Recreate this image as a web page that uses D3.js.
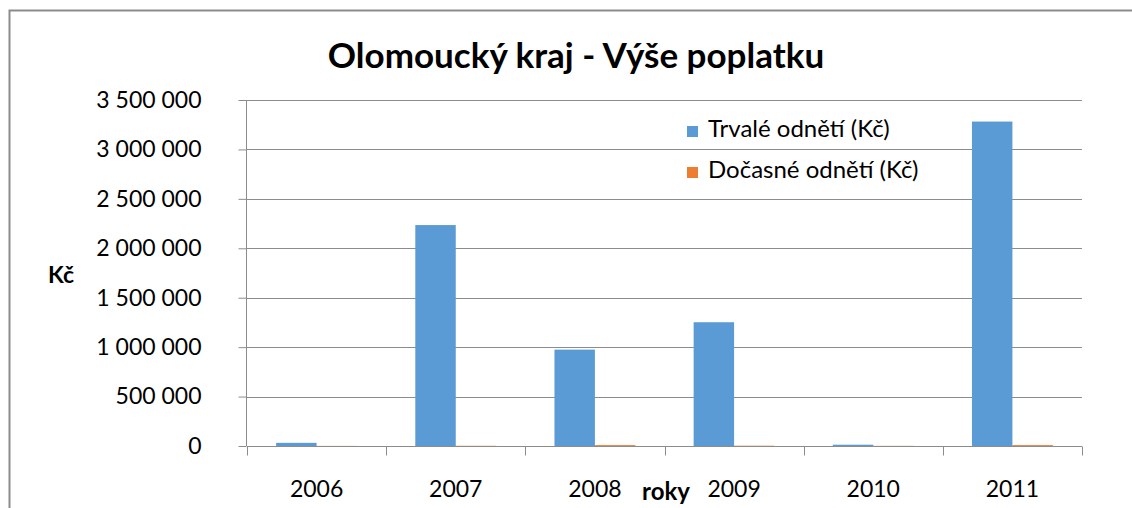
<!DOCTYPE html>
<html lang="cs">
<head>
    <meta charset="UTF-8">
    <title>Olomoucký kraj - Výše poplatku</title>
    <script src="https://cdn.jsdelivr.net/npm/d3@7"></script>
    <style>
        body { margin: 0; background: #fff; }
        svg { font-family: Lato, "Open Sans", sans-serif; }
    </style>
</head>
<body>
<div id="chart"></div>
<script>
    // data
    const years = ["2006", "2007", "2008", "2009", "2010", "2011"];
    const trvale = [32000, 2235000, 975000, 1252000, 13000, 3282000];
    const docasne = [1000, 2000, 9000, 3000, 1500, 9000];
    const seriesNames = ["Trvalé odnětí (Kč)", "Dočasné odnětí (Kč)"];
    const yTicks = [0, 500000, 1000000, 1500000, 2000000, 2500000, 3000000, 3500000];

    const width = 1132, height = 508;
    const colors = ["#5b9bd5", "#ed7d31"];
    const margin = {left: 247, right: 50, top: 100, bottom: 62};

    const svg = d3.select("#chart").append("svg")
        .attr("width", width)
        .attr("height", height);

    // chart frame
    svg.append("rect")
        .attr("x", 9.5).attr("y", 10.5)
        .attr("width", 1140).attr("height", 520)
        .attr("fill", "none")
        .attr("stroke", "#8c8c8c")
        .attr("stroke-width", 2);

    const x = d3.scaleBand()
        .domain(years)
        .range([margin.left, width - margin.right]);

    const xInner = d3.scaleBand()
        .domain([0, 1])
        .range([0, x.bandwidth()])
        .paddingOuter(0.72);

    const y = d3.scaleLinear()
        .domain([0, 3500000])
        .range([height - margin.bottom, margin.top]);

    const fmt = v => d3.format(",")(v).replace(/,/g, " ");

    // gridlines
    svg.append("g")
        .selectAll("line")
        .data(yTicks.slice(1))
        .join("line")
        .attr("x1", margin.left).attr("x2", width - margin.right)
        .attr("y1", d => Math.round(y(d)) + 0.5).attr("y2", d => Math.round(y(d)) + 0.5)
        .attr("stroke", "#8c8c8c");

    // y axis
    const yAxis = svg.append("g")
        .attr("transform", `translate(${margin.left - 0.5},0)`)
        .call(d3.axisLeft(y).tickValues(yTicks).tickFormat(fmt).tickSize(8).tickPadding(37))
        .call(g => g.selectAll("path,line").attr("stroke", "#8c8c8c"))
        .call(g => g.select(".domain").attr("d", `M0,${y(3500000)}V${y(0)}`));
    yAxis.selectAll("text")
        .attr("font-size", 23)
        .attr("fill", "#000")
        .attr("font-family", "Lato, sans-serif");

    // bars
    const series = [trvale, docasne];
    series.forEach((vals, si) => {
        svg.append("g")
            .selectAll("rect")
            .data(vals)
            .join("rect")
            .attr("x", (d, i) => x(years[i]) + xInner(si))
            .attr("width", xInner.bandwidth())
            .attr("y", d => y(d))
            .attr("height", d => y(0) - y(d))
            .attr("fill", colors[si]);
    });

    // x axis
    const xAxis = svg.append("g")
        .attr("transform", `translate(0,${Math.round(y(0)) + 0.5})`)
        .call(d3.axisBottom(x).tickSize(0).tickPadding(34))
        .call(g => g.selectAll("path,line").attr("stroke", "#8c8c8c"))
        .call(g => g.select(".domain").attr("d", `M${margin.left},0H${width - margin.right}`));
    xAxis.selectAll("text")
        .attr("font-size", 23)
        .attr("fill", "#000")
        .attr("font-family", "Lato, sans-serif");
    xAxis.append("g")
        .selectAll("line")
        .data(years.map(d => x(d)).concat([width - margin.right]))
        .join("line")
        .attr("x1", d => Math.round(d) + 0.5).attr("x2", d => Math.round(d) + 0.5)
        .attr("y1", 0).attr("y2", 9)
        .attr("stroke", "#8c8c8c");

    // title
    svg.append("text")
        .attr("x", 576).attr("y", 68)
        .attr("text-anchor", "middle")
        .attr("font-size", 35)
        .attr("font-weight", "bold")
        .text("Olomoucký kraj - Výše poplatku");

    // axis titles
    svg.append("text")
        .attr("x", 48).attr("y", 283)
        .attr("font-size", 23)
        .attr("font-weight", "bold")
        .text("Kč");
    svg.append("text")
        .attr("x", 666).attr("y", 500)
        .attr("text-anchor", "middle")
        .attr("font-size", 24)
        .attr("font-weight", "bold")
        .text("roky");

    // legend
    const legend = svg.append("g")
        .selectAll("g")
        .data(seriesNames)
        .join("g")
        .attr("transform", (d, i) => `translate(687,${126 + i * 41})`);
    legend.append("rect")
        .attr("width", 11).attr("height", 11)
        .attr("fill", (d, i) => colors[i]);
    legend.append("text")
        .attr("x", 21).attr("y", 11)
        .attr("font-size", 24)
        .text(d => d);
</script>
</body>
</html>
